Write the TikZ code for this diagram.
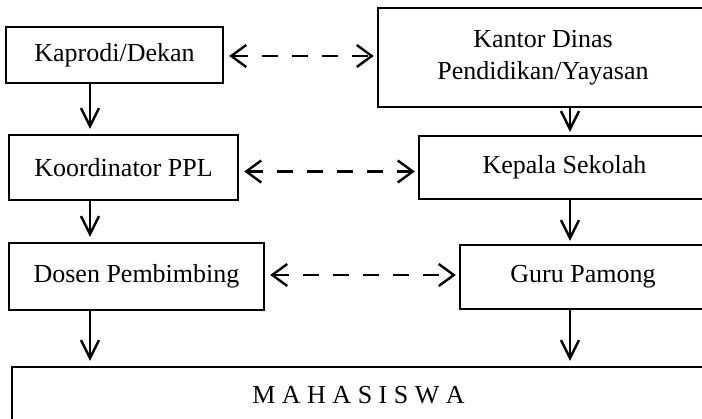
\documentclass[tikz,border=0pt]{standalone}
\usepackage{fontspec}
\setmainfont{Liberation Serif}
\usetikzlibrary{arrows.meta}

\begin{document}
\begin{tikzpicture}[x=1pt, y=-1pt, line width=2.4pt,
        font=\fontsize{26}{32}\selectfont,
        box/.style={draw, rectangle, inner sep=0pt, align=center},
        arr/.style={-{Straight Barb[length=18pt,width=18pt,line width=2.4pt]}, shorten >=5pt},
        link/.style={{Straight Barb[length=15pt,width=22pt,line width=2.4pt]}-{Straight Barb[length=15pt,width=22pt,line width=2.4pt]},
            dash pattern=on 16pt off 14pt, shorten <=5pt, shorten >=3pt}]
        \clip (0, 0) rectangle (702, 419);

        \node[box, minimum width=217pt, minimum height=56pt] (Kaprodi) at (114.5, 55) {Kaprodi/Dekan};
        \node[box, minimum width=330pt, minimum height=99pt] (Kantor) at (543, 57.5) {Kantor Dinas\\Pendidikan/Yayasan};
        \node[box, minimum width=229pt, minimum height=65pt] (Koordinator) at (123.5, 167.5) {Koordinator PPL};
        \node[box, minimum width=291pt, minimum height=63pt] (Kepala) at (564.5, 167.5) {Kepala Sekolah};
        \node[box, minimum width=255pt, minimum height=67pt] (Dosen) at (136.5, 276.5) {Dosen Pembimbing};
        \node[box, minimum width=246pt, minimum height=64pt] (Guru) at (583, 277) {Guru Pamong};
        \node[box, minimum width=693pt, minimum height=56pt] (Mahasiswa) at (358.5, 395) {M A H A S I S W A};

        \coordinate (LeftLane) at (90, 0);
        \coordinate (RightLane) at (570, 0);

        % garis komando
        \draw[arr] (Kaprodi.south -| LeftLane) to (Koordinator.north -| LeftLane);
        \draw[arr] (Koordinator.south -| LeftLane) to (Dosen.north -| LeftLane);
        \draw[arr] (Dosen.south -| LeftLane) to (Mahasiswa.north -| LeftLane);
        \draw[arr, shorten >=3pt] (Kantor.south -| RightLane) to (Kepala.north -| RightLane);
        \draw[arr, shorten >=3pt] (Kepala.south -| RightLane) to (Guru.north -| RightLane);
        \draw[arr] (Guru.south -| RightLane) to (Mahasiswa.north -| RightLane);

        % garis koordinasi
        \draw[link] ([yshift=-1pt]Kaprodi.east) to ([yshift=-1pt]Kaprodi.east -| Kantor.west);
        \draw[link] ([yshift=-4pt]Koordinator.east) to ([yshift=-4pt]Koordinator.east -| Kepala.west);
        \draw[link] ([yshift=1.5pt]Dosen.east) to ([yshift=1.5pt]Dosen.east -| Guru.west);
    \end{tikzpicture}
\end{document}
